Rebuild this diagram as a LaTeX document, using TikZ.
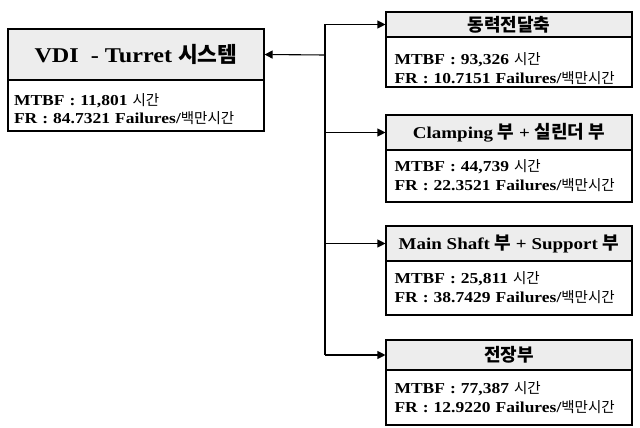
\documentclass[tikz,border=0pt]{standalone}
\usepackage{fontspec}
\setmainfont[FakeStretch=1.15]{Liberation Serif}
\newfontfamily\kor{Noto Sans CJK KR}
\usetikzlibrary{arrows.meta}
\newcommand{\ko}[1]{{\kor #1}}
\newcommand{\kt}[1]{{\kor\fontsize{18}{20}\selectfont #1}}
\newcommand{\kb}[1]{{\kor\mdseries\fontsize{14.5}{18}\selectfont #1}}
\begin{document}
\begin{tikzpicture}[x=1pt,y=-1pt,
  box/.style={draw=black,line width=1.1pt,inner sep=0pt,minimum width=#1},
  tbox/.style={box=#1,fill=black!7},
  ttl/.style={font=\fontsize{16.5}{18}\selectfont\bfseries},
  body/.style={box=#1,fill=white,align=left,text width=#1-17pt,
    font=\fontsize{15.2}{19}\selectfont\bfseries},
  arr/.style={line width=1.1pt,-{Triangle[length=8pt,width=8pt]}},
  ln/.style={line width=1.1pt}]
\useasboundingbox (0,0) rectangle (640,428);
% main box
\node[tbox=256pt,minimum height=51pt,font=\fontsize{21}{24}\selectfont\bfseries] (mt) at (136,54.5) {VDI\ \ - Turret \ko{\fontsize{21.5}{24}\selectfont 시스템}};
\node[body=256pt,minimum height=51pt,font=\fontsize{15.2}{18.5}\selectfont\bfseries,text width=244pt] (mb) at (136,105.5) {\rule{0pt}{19pt}MTBF : 11,801 \kb{시간}\\FR : 84.7321 Failures/\kb{백만시간}};
% right boxes
\node[tbox=246pt,minimum height=25pt,ttl] (t1) at (509,24.5) {\kt{동력전달축}};
\node[body=246pt,minimum height=50pt] (b1) at (509,62) {\rule{0pt}{26pt}MTBF : 93,326 \kb{시간}\\FR : 10.7151 Failures/\kb{백만시간}};
\node[tbox=246pt,minimum height=35pt,ttl] (t2) at (509,132.5) {Clamping \kt{부} + \kt{실린더 부}};
\node[body=246pt,minimum height=52pt] (b2) at (509,176) {MTBF : 44,739 \kb{시간}\\FR : 22.3521 Failures/\kb{백만시간}};
\node[tbox=246pt,minimum height=35pt,ttl] (t3) at (509,243.5) {Main Shaft \kt{부} + Support \kt{부}};
\node[body=246pt,minimum height=54pt] (b3) at (509,288) {MTBF : 25,811 \kb{시간}\\FR : 38.7429 Failures/\kb{백만시간}};
\node[tbox=246pt,minimum height=30pt,ttl] (t4) at (509,355) {\kt{전장부}};
\node[body=246pt,minimum height=55pt] (b4) at (509,397.5) {MTBF : 77,387 \kb{시간}\\FR : 12.9220 Failures/\kb{백만시간}};
% connectors
\coordinate (j) at (325,55);
\draw[ln] (t1.west -| j) -- (t4.west -| j);
\draw[arr] (j) -- (mt.east);
\draw[arr] (t1.west -| j) -- (t1.west);
\draw[arr] (t2.west -| j) -- (t2.west);
\draw[arr] (t3.west -| j) -- (t3.west);
\draw[arr] (t4.west -| j) -- (t4.west);
\end{tikzpicture}
\end{document}
